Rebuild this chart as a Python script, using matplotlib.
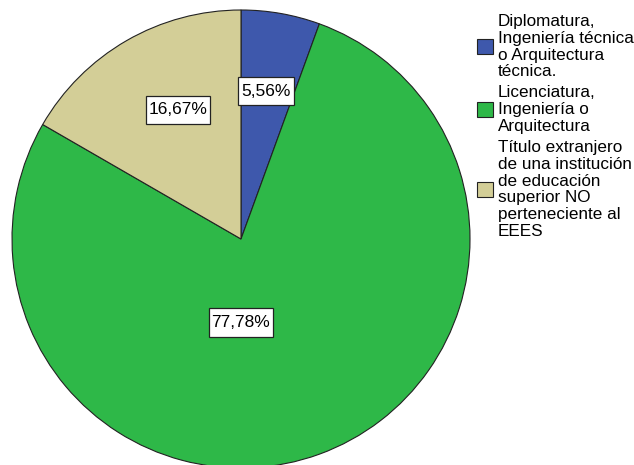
import numpy as np
import matplotlib
matplotlib.use("Agg")
import matplotlib.pyplot as plt
from matplotlib.patches import Patch

categories = [
    "Diplomatura,\nIngeniería técnica\no Arquitectura\ntécnica.",
    "Licenciatura,\nIngeniería o\nArquitectura",
    "Título extranjero\nde una institución\nde educación\nsuperior NO\nperteneciente al\nEEES",
]
values = [5.56, 77.78, 16.67]
pct_labels = ["5,56%", "77,78%", "16,67%"]
colors = ["#3E58AC", "#2EB848", "#D3CE97"]

# label placement (angle in degrees, radius as fraction of pie radius)
label_polar = [(80.4, 0.655), (-90.0, 0.365), (116.0, 0.627)]

plt.rcParams['font.family'] = ['Liberation Sans', 'DejaVu Sans']

fig = plt.figure(figsize=(6.34, 4.65), dpi=100)
cx, cy, r = 241, 465 - 239, 229
ax = fig.add_axes([(cx - r) / 634, (cy - r) / 465, 2 * r / 634, 2 * r / 465])
ax.pie(values, colors=colors, startangle=90, counterclock=False, radius=1,
       wedgeprops=dict(edgecolor="#222222", linewidth=0.8))
ax.set_xlim(-1, 1)
ax.set_ylim(-1, 1)
ax.set_aspect('equal')
ax.axis('off')

for lab, (ang, rr) in zip(pct_labels, label_polar):
    a = np.deg2rad(ang)
    ax.text(rr * np.cos(a), rr * np.sin(a), lab, ha='center', va='center', fontsize=12.5,
            bbox=dict(boxstyle='square,pad=0.17', mutation_aspect=2.3, facecolor='white',
                      edgecolor='#222222', linewidth=0.9))

handles = [Patch(facecolor=c, edgecolor='#222222', linewidth=0.8) for c in colors]
leg = fig.legend(handles, categories, loc='upper left', bbox_to_anchor=(477 / 634, 1 - 14 / 465),
                 frameon=False, fontsize=12.3, handlelength=0.95, handleheight=0.95,
                 handletextpad=0.25, labelspacing=0.35, borderaxespad=0, borderpad=0)
for t in leg.get_texts():
    t.set_linespacing(1.15)

fig.savefig("out.png", dpi=100)
